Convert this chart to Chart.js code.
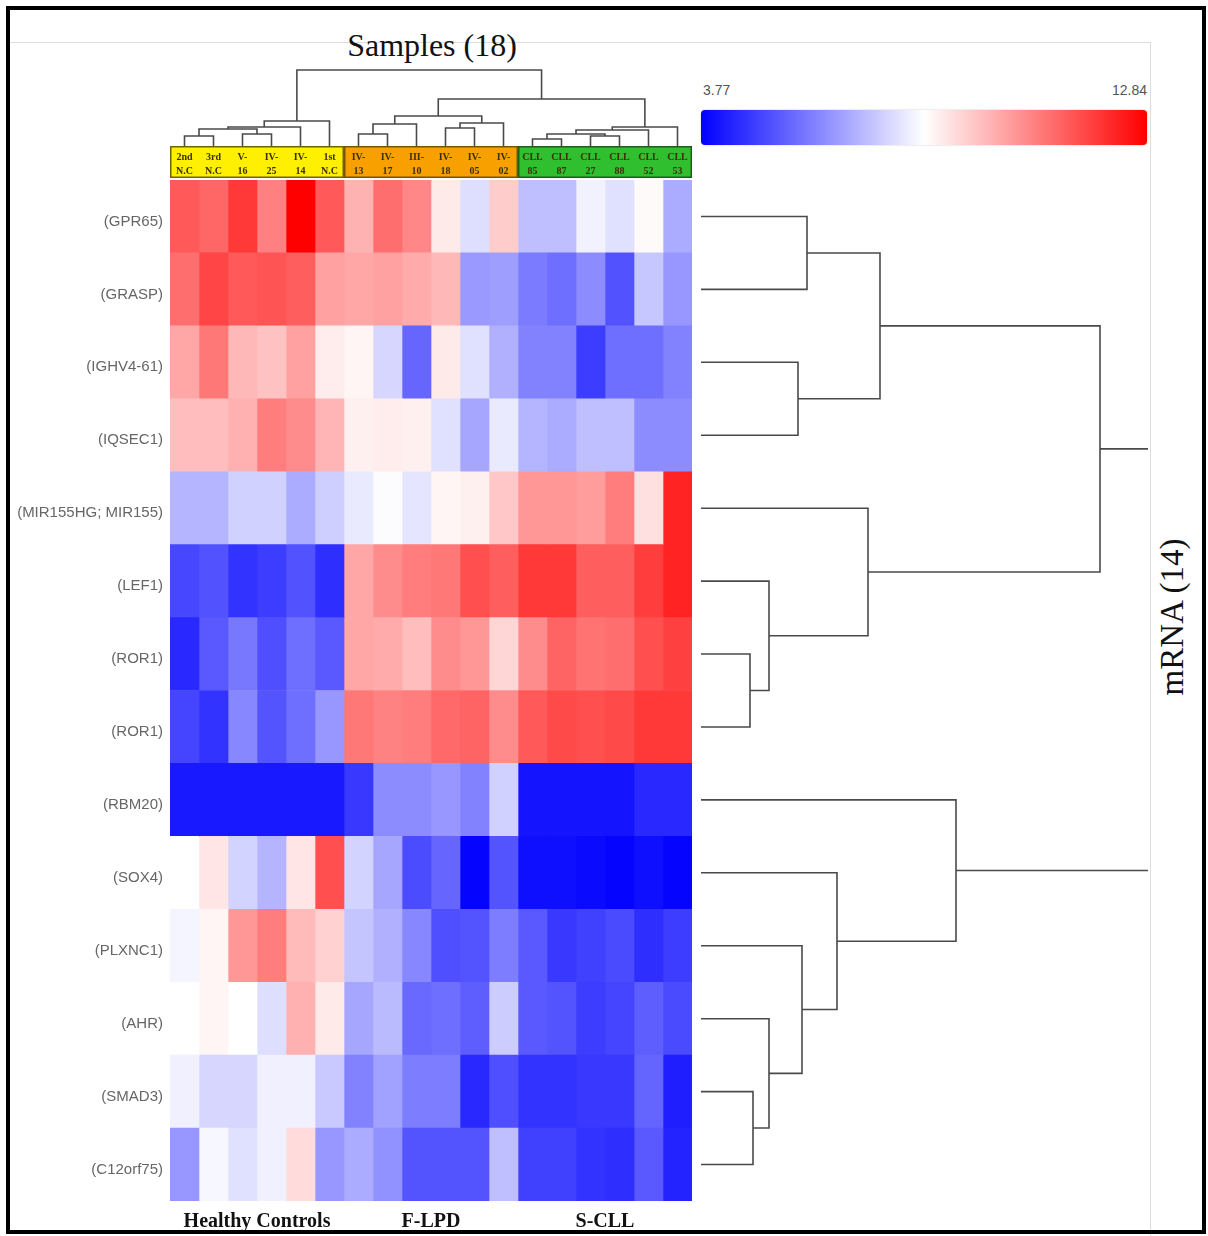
<!DOCTYPE html>
<html>
<head>
<meta charset="utf-8">
<script src="https://cdn.jsdelivr.net/npm/chart.js@4.4.1/dist/chart.umd.min.js"></script>
<style>
  html, body { margin: 0; padding: 0; background: #fff; }
  #page { position: relative; width: 1208px; height: 1236px; overflow: hidden; }
  #page canvas { position: absolute; }
  .frame { position: absolute; left: 6px; top: 6px; width: 1200px; height: 1228px; box-sizing: border-box; border: 4px solid #000; }
  .panel { position: absolute; left: 10px; top: 42px; width: 1140px; height: 1200px; border-top: 1px solid #ddd; border-right: 1px solid #ddd; }
  .serif { position: absolute; font-family: "Liberation Serif", "Times New Roman", serif; color: #111; white-space: nowrap; }
  #title { left: 432px; top: 29px; font-size: 32px; line-height: 32px; transform: translateX(-50%); }
  #rowTitle { left: 1172px; top: 617px; font-size: 33px; line-height: 33px; transform: translate(-50%, -50%) rotate(-90deg); }
  #colorbar { position: absolute; left: 701px; top: 110px; width: 446px; height: 35px; border-radius: 4px;
    background: linear-gradient(to right, #0000ff 0%, #ffffff 50%, #ff0000 100%);
    box-shadow: 0 0 2px rgba(0,0,0,0.25); }
  .cbLabel { position: absolute; top: 82px; font-family: "Liberation Sans", Arial, sans-serif; font-size: 14px; color: #555; }
  #cbMin { left: 703px; }
  #cbMax { left: 1147px; transform: translateX(-100%); }
</style>
</head>
<body>
<div id="page">
  <div class="panel"></div>
  <canvas id="colDendro" width="530" height="85" style="left:166px;top:66px"></canvas>
  <canvas id="heat" width="692" height="1096" style="left:0px;top:140px"></canvas>
  <canvas id="rowDendro" width="451" height="1029" style="left:697px;top:176px"></canvas>
  <div id="title" class="serif">Samples (18)</div>
  <div id="rowTitle" class="serif">mRNA (14)</div>
  <div id="cbMin" class="cbLabel"></div>
  <div id="cbMax" class="cbLabel"></div>
  <div id="colorbar"></div>
  <div class="frame"></div>
</div>
<script>
// ---- data ----
const genes = ["(GPR65)", "(GRASP)", "(IGHV4-61)", "(IQSEC1)", "(MIR155HG; MIR155)", "(LEF1)", "(ROR1)",
  "(ROR1)", "(RBM20)", "(SOX4)", "(PLXNC1)", "(AHR)", "(SMAD3)", "(C12orf75)"];

const sampleLine1 = ["2nd", "3rd", "V-", "IV-", "IV-", "1st", "IV-", "IV-", "III-", "IV-", "IV-", "IV-",
  "CLL", "CLL", "CLL", "CLL", "CLL", "CLL"];
const sampleLine2 = ["N.C", "N.C", "16", "25", "14", "N.C", "13", "17", "10", "18", "05", "02",
  "85", "87", "27", "88", "52", "53"];

const groups = ["Healthy Controls", "F-LPD", "S-CLL"];
const groupSizes = [6, 6, 6];
const groupColors = ["#ffef00", "#f7a000", "#2fbf2f"];
const groupEdges = ["#6e6400", "#7a5200", "#1d5e1d"];

// colour scale limits (log2 expression)
const colorMin = 3.77;
const colorMax = 12.84;

// one row per gene, one value per sample
const expression = [
  [11.25, 11.03, 11.84, 10.57, 12.84, 11.25, 9.67, 10.89, 10.44, 8.67, 7.71, 9.21, 7.17, 7.17, 8.08, 7.76, 8.40, 6.81],
  [10.89, 11.61, 11.25, 11.34, 11.16, 9.98, 9.89, 9.98, 9.80, 9.57, 6.49, 6.58, 5.95, 5.72, 6.26, 5.22, 7.31, 6.45],
  [9.89, 10.71, 9.57, 9.39, 9.98, 8.62, 8.49, 7.58, 5.58, 8.67, 7.76, 6.90, 6.08, 6.08, 4.86, 5.72, 5.72, 6.08],
  [9.48, 9.48, 9.71, 10.62, 10.35, 9.62, 8.58, 8.62, 8.58, 7.76, 6.72, 7.94, 6.99, 6.81, 7.17, 7.17, 6.26, 6.26],
  [6.99, 6.99, 7.49, 7.49, 6.81, 7.44, 7.94, 8.26, 7.85, 8.49, 8.58, 9.30, 10.16, 10.16, 10.07, 10.62, 8.85, 12.21],
  [5.04, 5.22, 4.68, 4.86, 5.22, 4.59, 9.89, 10.35, 10.62, 10.71, 11.43, 11.16, 11.84, 11.84, 11.16, 11.16, 11.75, 12.21],
  [4.50, 5.36, 5.90, 5.18, 5.72, 5.36, 9.89, 9.80, 9.48, 10.35, 10.16, 9.03, 10.35, 11.07, 10.80, 10.89, 11.43, 11.71],
  [5.00, 4.68, 6.17, 5.27, 5.72, 6.45, 10.71, 10.53, 10.62, 10.98, 11.07, 10.35, 11.25, 11.52, 11.43, 11.52, 11.84, 11.84],
  [4.22, 4.22, 4.22, 4.22, 4.22, 4.22, 4.77, 6.26, 6.26, 6.45, 6.08, 7.49, 4.13, 4.13, 4.13, 4.13, 4.50, 4.50],
  [8.31, 8.76, 7.53, 6.99, 8.76, 11.43, 7.53, 6.72, 5.13, 5.58, 3.86, 5.27, 4.04, 4.04, 3.95, 3.86, 4.04, 3.86],
  [8.12, 8.49, 10.16, 10.62, 9.53, 9.12, 7.26, 6.90, 6.17, 5.18, 5.27, 5.99, 5.36, 4.77, 4.90, 5.09, 4.59, 4.86],
  [8.31, 8.49, 8.31, 7.71, 9.71, 8.67, 6.72, 7.08, 5.63, 5.72, 5.45, 7.40, 5.36, 5.27, 4.86, 5.00, 5.45, 5.09],
  [8.03, 7.58, 7.58, 8.03, 8.03, 7.35, 6.08, 6.63, 5.99, 5.99, 4.50, 5.18, 4.68, 4.68, 4.77, 4.77, 5.54, 4.31],
  [6.45, 8.17, 7.76, 8.03, 8.94, 6.45, 6.81, 6.35, 5.27, 5.27, 5.27, 7.17, 4.90, 4.90, 4.68, 4.59, 5.36, 4.40]
];

// linkage: [childA, childB, height]; leaves are 0..n-1, merge k becomes node n+k
const sampleLinks = [
  [0, 1, 11], [2, 3, 13], [18, 19, 18], [20, 4, 20], [21, 5, 26],
  [6, 7, 13], [23, 8, 23], [9, 10, 19], [25, 11, 24], [24, 26, 31],
  [12, 13, 8], [14, 15, 11], [28, 29, 13], [30, 16, 17], [31, 17, 20],
  [27, 32, 48], [22, 33, 77]
];
const geneLinks = [
  [0, 1, 106], [2, 3, 97], [14, 15, 179], [6, 7, 49], [5, 17, 68], [4, 18, 167], [16, 19, 399],
  [12, 13, 52], [11, 21, 68], [10, 22, 101], [9, 23, 136], [8, 24, 255],
  [20, 25, 520]
];

// ---- helpers ----
function heatColor(v) {
  let t = (v - colorMin) / (colorMax - colorMin);
  t = Math.max(0, Math.min(1, t));
  if (t < 0.5) {
    const k = Math.round(255 * t / 0.5);
    return `rgb(${k},${k},255)`;
  }
  const k = Math.round(255 * (1 - (t - 0.5) / 0.5));
  return `rgb(255,${k},${k})`;
}

// turns a linkage list into one elbow polyline per merge
function dendroSegments(links, nLeaves, horizontal) {
  const pos = [], height = [];
  for (let i = 0; i < nLeaves; i++) { pos.push(i + 0.5); height.push(0); }
  return links.map(([a, b, h]) => {
    pos.push((pos[a] + pos[b]) / 2);
    height.push(h);
    const pts = [[pos[a], height[a]], [pos[a], h], [pos[b], h], [pos[b], height[b]]];
    return pts.map(([p, d]) => horizontal ? { x: d, y: p } : { x: p, y: d });
  });
}

const lineColor = "#4a4a4a";
function dendroDatasets(segments, clip) {
  return segments.map(seg => ({
    data: seg, showLine: true, borderColor: lineColor, borderWidth: 1.6,
    pointRadius: 0, fill: false, tension: 0, clip: clip
  }));
}

document.getElementById("cbMin").textContent = colorMin.toFixed(2);
document.getElementById("cbMax").textContent = colorMax.toFixed(2);

// ---- heatmap: one stacked horizontal bar per sample column ----
const sampleBand = {
  id: "sampleBand",
  afterDraw(chart) {
    const { ctx, chartArea, scales: { x } } = chart;
    const top = chartArea.top - 34, bottom = chartArea.top - 2;
    let start = 0;
    groups.forEach((g, gi) => {
      const x0 = x.getPixelForValue(start), x1 = x.getPixelForValue(start + groupSizes[gi]);
      ctx.fillStyle = groupColors[gi];
      ctx.fillRect(x0, top, x1 - x0, bottom - top);
      ctx.strokeStyle = groupEdges[gi];
      ctx.lineWidth = 1.5;
      ctx.strokeRect(x0 + 0.75, top + 0.75, x1 - x0 - 1.5, bottom - top - 1.5);

      // group caption under the heatmap
      ctx.fillStyle = "#111";
      ctx.font = "bold 20px 'Liberation Serif', serif";
      ctx.textAlign = "center";
      ctx.textBaseline = "middle";
      ctx.fillText(g, x.getPixelForValue(start + groupSizes[gi] / 2), chartArea.bottom + 21);
      start += groupSizes[gi];
    });

    ctx.font = "bold 10px 'Liberation Serif', serif";
    ctx.fillStyle = "#3b3000";
    ctx.textAlign = "center";
    ctx.textBaseline = "middle";
    sampleLine1.forEach((s, j) => {
      const cx = x.getPixelForValue(j + 0.5);
      ctx.fillText(s, cx, top + 11);
      ctx.fillText(sampleLine2[j], cx, top + 25);
    });
  }
};

new Chart(document.getElementById("heat"), {
  type: "bar",
  data: {
    labels: genes,
    datasets: sampleLine1.map((s, j) => ({
      label: s + " " + sampleLine2[j],
      data: genes.map(() => 1),
      backgroundColor: genes.map((g, i) => heatColor(expression[i][j])),
      borderWidth: 0,
      barPercentage: 1,
      categoryPercentage: 1
    }))
  },
  options: {
    indexAxis: "y",
    responsive: false,
    animation: false,
    layout: { padding: { top: 40, bottom: 35, left: 0, right: 0 } },
    plugins: { legend: { display: false }, tooltip: { enabled: false } },
    scales: {
      x: { stacked: true, min: 0, max: 18, display: false },
      y: {
        stacked: true,
        grid: { display: false, drawTicks: false },
        border: { display: false },
        ticks: { color: "#666", padding: 7, labelOffset: 5, font: { family: "'Liberation Sans', Arial, sans-serif", size: 15 } },
        afterFit(scale) { scale.width = 170; }
      }
    }
  },
  plugins: [sampleBand]
});

// ---- sample dendrogram (top) ----
new Chart(document.getElementById("colDendro"), {
  type: "scatter",
  data: { datasets: dendroDatasets(dendroSegments(sampleLinks, 18, false), 4) },
  options: {
    responsive: false,
    animation: false,
    layout: { padding: 4 },
    plugins: { legend: { display: false }, tooltip: { enabled: false } },
    scales: {
      x: { type: "linear", min: 0, max: 18, display: false },
      y: { type: "linear", min: 0, max: 77, display: false }
    }
  }
});

// ---- gene dendrogram (right), root lies past the panel edge ----
new Chart(document.getElementById("rowDendro"), {
  type: "scatter",
  data: { datasets: dendroDatasets(dendroSegments(geneLinks, 14, true), { left: 2, right: 0, top: 2, bottom: 2 }) },
  options: {
    responsive: false,
    animation: false,
    layout: { padding: { left: 4, right: 0, top: 4, bottom: 4 } },
    plugins: { legend: { display: false }, tooltip: { enabled: false } },
    scales: {
      x: { type: "linear", min: 0, max: 447, display: false },
      y: { type: "linear", min: 0, max: 14, reverse: true, display: false }
    }
  }
});
</script>
</body>
</html>
